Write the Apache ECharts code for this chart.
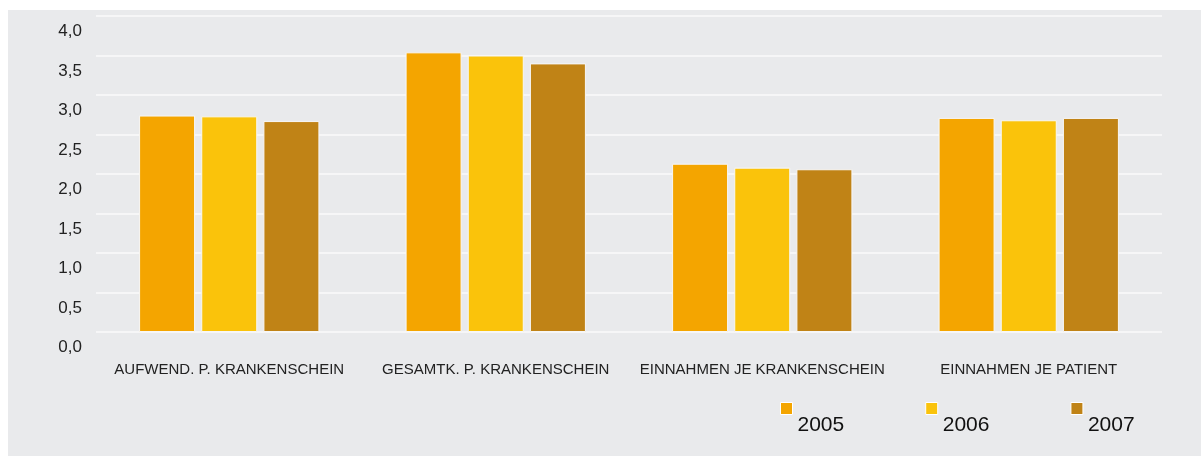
<!DOCTYPE html>
<html lang="de">
<head>
  <meta charset="UTF-8">
  <title>Krankenschein</title>
  <script src="https://cdn.jsdelivr.net/npm/echarts@6/dist/echarts.min.js"></script>
  <style>
    * {
      margin: 0;
      padding: 0
    }

    html, body {
      width: 100%;
      height: 100%;
      background: #fff;
    }

    #main {
      position: absolute;
      left: 8px;
      top: 10px;
      width: 1193px;
      height: 446px;
      background: #e9eaec;
    }
  </style>
</head>
<body>
  <div id="main"></div>
</body>
<script type="text/javascript">
  var categories = ['AUFWEND. P. KRANKENSCHEIN', 'GESAMTK. P. KRANKENSCHEIN', 'EINNAHMEN JE KRANKENSCHEIN', 'EINNAHMEN JE PATIENT'];
  var years = ['2005', '2006', '2007'];
  var v2005 = [2.74, 3.54, 2.13, 2.71];
  var v2006 = [2.73, 3.50, 2.08, 2.68];
  var v2007 = [2.67, 3.40, 2.06, 2.71];
  var colors = ['#f4a500', '#fac30b', '#c08316'];

  var chart = echarts.init(document.getElementById('main'));
  var values = [v2005, v2006, v2007];
  var series = [];
  for (var i = 0; i < years.length; i++) {
    series.push({
      name: years[i],
      type: 'bar',
      data: values[i],
      barWidth: 56,
      barGap: '11%',
      itemStyle: {color: colors[i], borderColor: '#f7f7f7', borderWidth: 1}
    });
  }

  chart.setOption({
    animation: false,
    textStyle: {fontFamily: 'Liberation Sans, Arial, sans-serif'},
    color: colors,
    grid: {left: 88, right: 39, top: 6, bottom: 124},
    legend: {
      data: years,
      left: 772,
      top: 376,
      padding: 0,
      itemWidth: 12,
      itemHeight: 12,
      itemGap: 81,
      icon: 'rect',
      itemStyle: {borderColor: '#fff', borderWidth: 1},
      formatter: function (name) { return '{s|}\n{t|' + name + '}'; },
      textStyle: {
        rich: {
          s: {lineHeight: 33, fontSize: 21},
          t: {lineHeight: 24, fontSize: 21, color: '#111'}
        }
      }
    },
    xAxis: {
      type: 'category',
      data: categories,
      axisLine: {show: false},
      axisTick: {show: false},
      axisLabel: {fontSize: 15, color: '#222', margin: 30, interval: 0}
    },
    yAxis: {
      type: 'value',
      min: 0,
      max: 4,
      interval: 0.5,
      axisLine: {show: false},
      axisTick: {show: false},
      splitLine: {lineStyle: {color: '#f6f6f7', width: 2}},
      axisLabel: {
        fontSize: 17,
        color: '#222',
        margin: 14,
        verticalAlign: 'top',
        lineHeight: 31,
        formatter: function (v) { return v.toFixed(1).replace('.', ','); }
      }
    },
    series: series
  });
</script>
</html>
